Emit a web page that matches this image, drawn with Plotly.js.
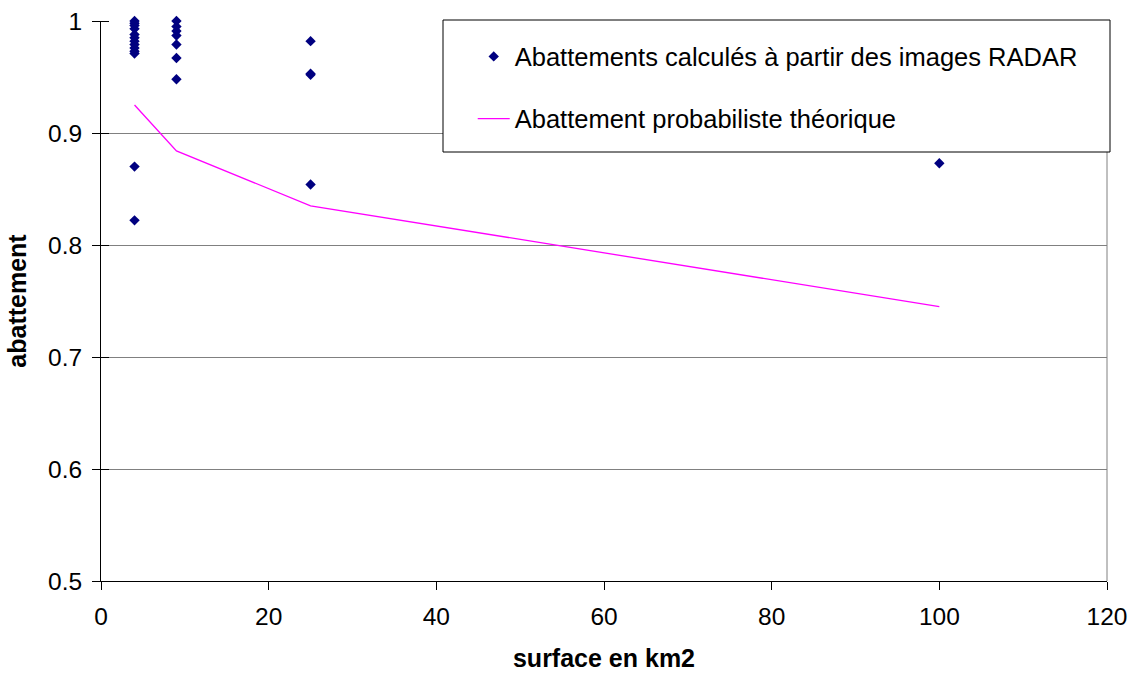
<!DOCTYPE html>
<html>
<head>
<meta charset="utf-8">
<script src="https://cdn.plot.ly/plotly-3.0.1.min.js"></script>
<style>
  html, body { margin: 0; padding: 0; background: #fff; }
  #chart { width: 1133px; height: 673px; }
</style>
</head>
<body>
<div id="chart"></div>
<script>
// Abattements calculés à partir des images RADAR (surface en km2, abattement)
const radarSurface = [
  4, 4, 4, 4, 4, 4, 4, 4, 4, 4, 4, 4, 4,
  9, 9, 9, 9, 9, 9, 9,
  25, 25, 25, 25,
  100
];
const radarAbattement = [
  1.000, 0.998, 0.996, 0.993, 0.988, 0.985, 0.982, 0.979, 0.976, 0.973, 0.971, 0.870, 0.822,
  1.000, 0.995, 0.991, 0.987, 0.979, 0.967, 0.948,
  0.982, 0.953, 0.952, 0.854,
  0.873
];

// Abattement probabiliste théorique
const theoSurface = [4, 9, 25, 100];
const theoAbattement = [0.925, 0.884, 0.835, 0.745];

const xTicks = [0, 20, 40, 60, 80, 100, 120];
const yTicks = [0.5, 0.6, 0.7, 0.8, 0.9, 1];

const fontFamily = 'Arial, "Liberation Sans", sans-serif';

const traces = [
  {
    x: radarSurface,
    y: radarAbattement,
    type: 'scatter',
    mode: 'markers',
    name: 'Abattements calculés à partir des images RADAR',
    legendgroup: 'radar',
    marker: { symbol: 'diamond', size: 8, color: '#000080', line: { width: 0 } },
    cliponaxis: false
  },
  {
    x: theoSurface,
    y: theoAbattement,
    type: 'scatter',
    mode: 'lines',
    name: 'Abattement probabiliste théorique',
    legendgroup: 'theo',
    line: { color: '#FF00FF', width: 1.3 }
  }
];

const layout = {
  width: 1133,
  height: 673,
  margin: { l: 101, r: 26, t: 21, b: 92 },
  paper_bgcolor: '#ffffff',
  plot_bgcolor: '#ffffff',
  font: { family: fontFamily, size: 24.5, color: '#000000' },
  showlegend: true,
  legend: {
    x: 0.3695,
    y: 0.978,
    xanchor: 'left',
    yanchor: 'top',
    bgcolor: 'rgba(0,0,0,0)',
    borderwidth: 0,
    font: { family: fontFamily, size: 25.5, color: '#000' },
    traceorder: 'grouped',
    tracegroupgap: 26,
    itemwidth: 32
  },
  xaxis: {
    range: [0, 120],
    tickvals: xTicks,
    ticktext: xTicks.map(String),
    showgrid: false,
    zeroline: false,
    showline: true,
    linecolor: '#000',
    linewidth: 1,
    ticks: 'outside',
    ticklen: 8,
    tickcolor: '#000',
    ticklabelstandoff: 6,
    tickfont: { size: 24.5 },
    title: { text: '<b>surface en km2</b>', font: { size: 25 }, standoff: 20 }
  },
  yaxis: {
    range: [0.5, 1],
    tickvals: yTicks,
    ticktext: yTicks.map(v => String(v)),
    showgrid: true,
    gridcolor: '#808080',
    gridwidth: 1,
    zeroline: false,
    showline: true,
    linecolor: '#000',
    linewidth: 1,
    ticks: 'outside',
    ticklen: 8,
    tickcolor: '#000',
    ticklabelstandoff: 5,
    tickfont: { size: 24.5 },
    minor: { tickvals: yTicks, ticks: 'inside', ticklen: 8, tickcolor: '#000', showgrid: false },
    title: { text: '<b>abattement</b>', font: { size: 25 }, standoff: 14 }
  },
  shapes: [
    {
      // right edge of the plot area
      type: 'line',
      xref: 'paper', yref: 'paper',
      x0: 1, x1: 1, y0: 0, y1: 1,
      line: { color: '#808080', width: 1 },
      layer: 'below'
    },
    {
      // legend frame
      type: 'rect',
      xref: 'paper', yref: 'paper',
      x0: (443 - 101) / 1006, x1: (1110 - 101) / 1006,
      y0: (581 - 152) / 560, y1: (581 - 20) / 560,
      fillcolor: '#ffffff',
      line: { color: '#000', width: 1 },
      layer: 'above'
    }
  ]
};

Plotly.newPlot('chart', traces, layout, { displayModeBar: false, staticPlot: true });
</script>
</body>
</html>
